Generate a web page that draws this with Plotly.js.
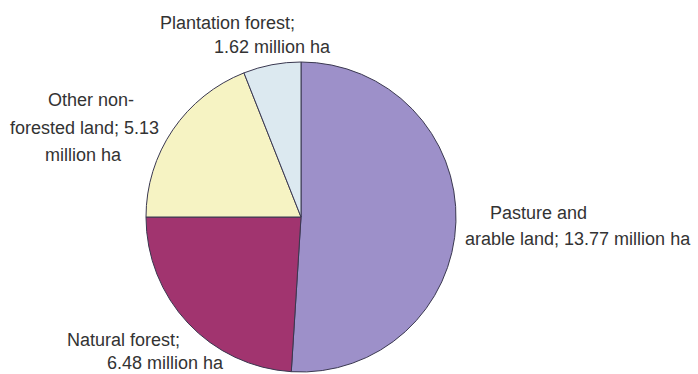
<!DOCTYPE html>
<html>
<head>
<meta charset="utf-8">
<script src="https://cdn.plot.ly/plotly-3.0.1.min.js"></script>
<style>html,body{margin:0;padding:0;background:#fff;}#chart{width:698px;height:374px;}</style>
</head>
<body>
<div id="chart"></div>
<script>
const categories = ["Pasture and arable land", "Natural forest", "Other non-forested land", "Plantation forest"];
const values = [13.77, 6.48, 5.13, 1.62];
const colors = ["#9d90c9", "#a1346f", "#f6f3c3", "#dce9f0"];
const labelLines = [
  ["Pasture and", "arable land; 13.77 million ha"],
  ["Natural forest;", "6.48 million ha"],
  ["Other non-", "forested land; 5.13", "million ha"],
  ["Plantation forest;", "1.62 million ha"]
];
// left x / center y (pixels) of each label line
const labelPos = [
  [[488, 213], [463, 239]],
  [[65, 340], [105, 363]],
  [[46, 100], [8, 128], [43, 155]],
  [[158, 23], [212, 47]]
];

const W = 698, H = 374;
const cx = 301, cy = 217, r = 155;

const trace = {
  type: "pie",
  labels: categories,
  values: values,
  sort: false,
  direction: "clockwise",
  rotation: 0,
  textinfo: "none",
  hoverinfo: "label+value",
  marker: {colors: colors, line: {color: "#3a3850", width: 1}},
  domain: {x: [(cx - r) / W, (cx + r) / W], y: [(H - (cy + r)) / H, (H - (cy - r)) / H]},
  showlegend: false
};

const annotations = [];
labelLines.forEach((lines, i) => {
  lines.forEach((t, j) => {
    const p = labelPos[i][j];
    annotations.push({
      text: t, xref: "paper", yref: "paper",
      x: p[0] / W, y: (H - p[1]) / H,
      xanchor: "left", yanchor: "middle", showarrow: false,
      font: {family: "Liberation Sans, Arial, sans-serif", size: 18, color: "#333333"}
    });
  });
});

const layout = {
  width: W, height: H,
  margin: {l: 0, r: 0, t: 0, b: 0},
  paper_bgcolor: "#ffffff",
  plot_bgcolor: "#ffffff",
  annotations: annotations,
  showlegend: false
};

Plotly.newPlot("chart", [trace], layout, {displayModeBar: false, staticPlot: true});
</script>
</body>
</html>
